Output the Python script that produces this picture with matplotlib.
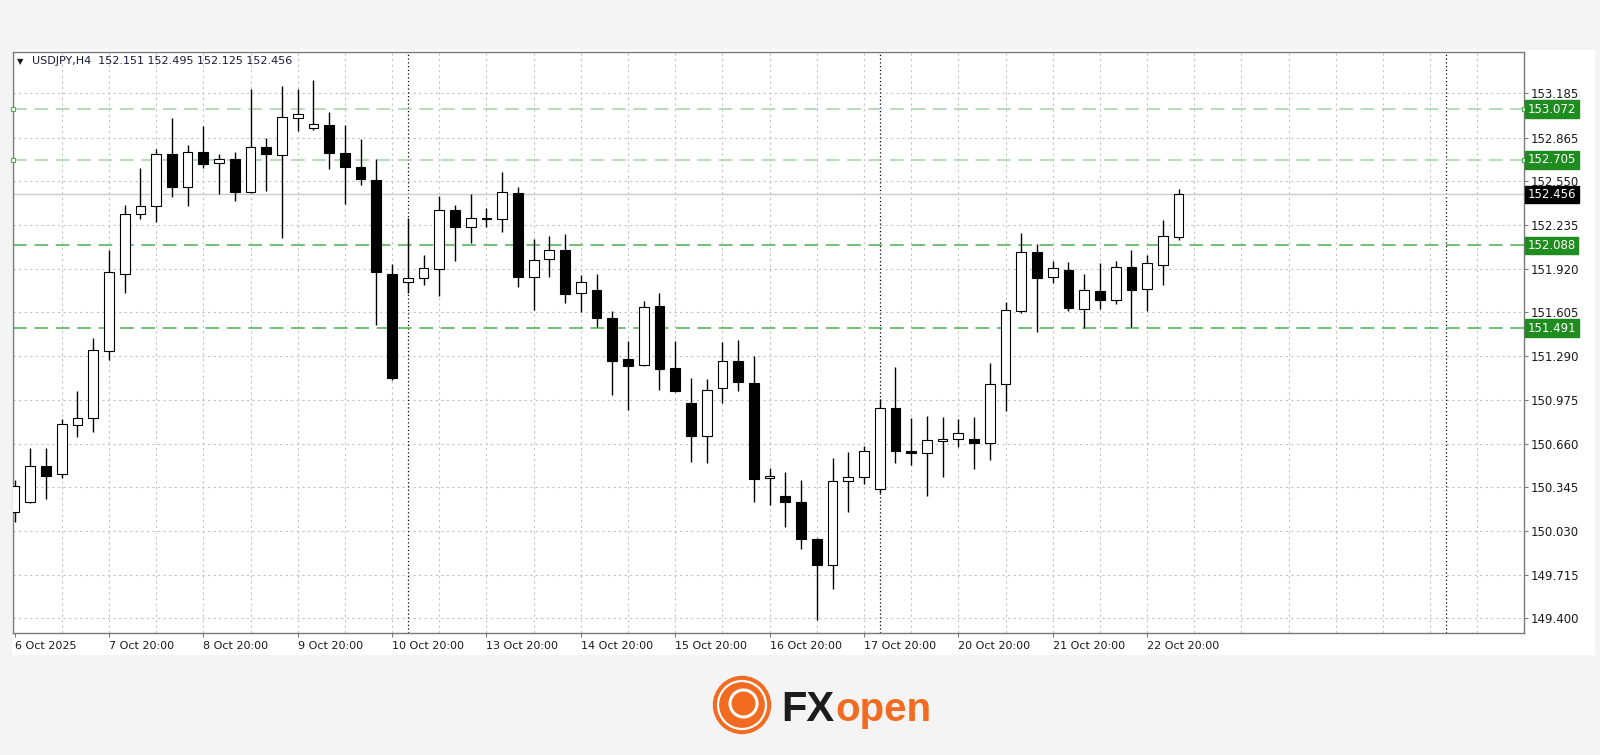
import matplotlib
matplotlib.use("Agg")
import matplotlib.pyplot as plt
from matplotlib.patches import Rectangle, Circle
from matplotlib.transforms import blended_transform_factory

# USDJPY H4 candles, bar 0 = 6 Oct 20:00
opens = [150.168, 150.236, 150.500, 150.437, 150.796, 150.841, 151.329, 151.885, 152.312, 152.370,
         152.750, 152.512, 152.762, 152.680, 152.711, 152.471, 152.800, 152.743, 153.007, 152.937,
         152.957, 152.757, 152.654, 152.558, 151.885, 151.822, 151.851, 151.915, 152.343, 152.218,
         152.280, 152.281, 152.468, 151.863, 151.988, 152.052, 151.747, 151.764, 151.563, 151.272,
         151.226, 151.651, 151.207, 150.950, 150.712, 151.058, 151.255, 151.099, 150.409, 150.281,
         150.240, 149.974, 149.786, 150.392, 150.416, 150.334, 150.918, 150.608, 150.589, 150.676,
         150.692, 150.692, 150.661, 151.087, 151.616, 152.039, 151.858, 151.909, 151.628, 151.762,
         151.697, 151.933, 151.772, 151.947, 152.151]
highs = [150.397, 150.630, 150.625, 150.837, 151.038, 151.418, 152.055, 152.380, 152.649, 152.784,
         153.005, 152.810, 152.949, 152.745, 152.764, 153.216, 152.860, 153.238, 153.216, 153.279,
         153.053, 152.957, 152.856, 152.711, 151.954, 152.284, 152.016, 152.442, 152.379, 152.459,
         152.360, 152.615, 152.507, 152.132, 152.158, 152.170, 151.875, 151.882, 151.615, 151.402,
         151.690, 151.743, 151.399, 151.130, 151.125, 151.394, 151.406, 151.291, 150.481, 150.452,
         150.397, 149.981, 150.553, 150.596, 150.642, 150.978, 151.209, 150.844, 150.861, 150.854,
         150.834, 150.854, 151.241, 151.683, 152.180, 152.096, 151.978, 151.966, 151.885, 151.959,
         151.978, 152.053, 152.017, 152.269, 152.495]
lows = [150.096, 150.230, 150.260, 150.409, 150.709, 150.745, 151.262, 151.743, 152.281, 152.260,
        152.435, 152.375, 152.644, 152.459, 152.406, 152.465, 152.481, 152.139, 152.916, 152.921,
        152.639, 152.387, 152.524, 151.514, 151.118, 151.743, 151.803, 151.726, 151.978, 152.103,
        152.223, 152.182, 151.786, 151.622, 151.863, 151.675, 151.605, 151.497, 151.010, 150.902,
        151.220, 151.046, 151.035, 150.524, 150.517, 150.950, 151.039, 150.236, 150.216, 150.055,
        149.901, 149.387, 149.611, 150.168, 150.368, 150.305, 150.517, 150.505, 150.281, 150.416,
        150.632, 150.474, 150.541, 150.897, 151.599, 151.462, 151.820, 151.615, 151.493, 151.628,
        151.664, 151.503, 151.615, 151.805, 152.125]
closes = [150.353, 150.500, 150.425, 150.798, 150.841, 151.334, 151.897, 152.312, 152.372, 152.750,
          152.512, 152.762, 152.678, 152.711, 152.471, 152.800, 152.748, 153.012, 153.034, 152.961,
          152.757, 152.654, 152.565, 151.897, 151.135, 151.851, 151.923, 152.346, 152.221, 152.288,
          152.283, 152.473, 151.860, 151.985, 152.057, 151.740, 151.822, 151.567, 151.255, 151.219,
          151.647, 151.200, 151.039, 150.712, 151.048, 151.255, 151.103, 150.402, 150.423, 150.238,
          149.974, 149.786, 150.392, 150.416, 150.603, 150.918, 150.606, 150.589, 150.683, 150.690,
          150.733, 150.661, 151.087, 151.620, 152.039, 151.856, 151.928, 151.637, 151.767, 151.697,
          151.933, 151.767, 151.959, 152.159, 152.456]

price_ticks = [153.185, 152.865, 152.550, 152.235, 151.920, 151.605, 151.290,
               150.975, 150.660, 150.345, 150.030, 149.715, 149.400]
green_levels = [153.072, 152.705, 152.088, 151.491]
bid = 152.456

label_bars = [0, 6, 12, 18, 24, 30, 36, 42, 48, 54, 60, 66, 72]
date_labels = ["6 Oct 2025", "7 Oct 20:00", "8 Oct 20:00", "9 Oct 20:00", "10 Oct 20:00",
               "13 Oct 20:00", "14 Oct 20:00", "15 Oct 20:00", "16 Oct 20:00",
               "17 Oct 20:00", "20 Oct 20:00", "21 Oct 20:00", "22 Oct 20:00"]
week_bars = [25, 55, 91]

W, H = 1600, 755
fig = plt.figure(figsize=(16, 7.55), dpi=100, facecolor="#f4f4f4")

# white chart panel behind the axes
fig.patches.append(Rectangle((12 / W, 1 - 655 / H), (1595 - 12) / W, (655 - 50) / H,
                             transform=fig.transFigure, facecolor="white", edgecolor="none", zorder=-10))

ax = fig.add_axes([13.3 / W, 1 - 633 / H, (1524 - 13.3) / W, (633 - 52) / H])
ax.set_facecolor("white")
ax.set_xlim(-0.08, 95.96)
ax.set_ylim(149.294, 153.483)

# grid
for y in price_ticks:
    ax.axhline(y, color="#c2c2c2", lw=0.8, ls=(0, (2, 3)), zorder=1)
for b in range(3, 96, 3):
    ax.axvline(b, color="#c2c2c2", lw=0.8, ls=(0, (2, 3)), zorder=1)
for b in week_bars:
    ax.axvline(b, color="black", lw=0.9, ls=(0, (1, 2)), zorder=1)

# levels
for i, lv in enumerate(green_levels):
    col = "#a3d3a3" if i < 2 else "#4caf50"
    ax.axhline(lv, color=col, lw=1.1, dashes=(9, 5), zorder=1)
    if i < 2:
        ax.plot([-0.08, 95.96], [lv, lv], ls="none", marker="s", ms=3.5, mfc="white",
                mec="#4caf50", mew=0.8, clip_on=False, zorder=5)
ax.axhline(bid, color="#cccccc", lw=1, zorder=1)

# candles
xs = list(range(len(opens)))
ax.vlines(xs, lows, highs, color="black", lw=1, zorder=2)
bottoms = [min(o, c) for o, c in zip(opens, closes)]
heights = [abs(c - o) for o, c in zip(opens, closes)]
faces = ["white" if c >= o else "black" for o, c in zip(opens, closes)]
ax.bar(xs, heights, bottom=bottoms, width=0.62, color=faces, edgecolor="black",
       linewidth=0.8, zorder=3)

# axes look
for s in ax.spines.values():
    s.set_color("#7a7a7a")
    s.set_linewidth(1)
ax.yaxis.tick_right()
ax.set_yticks(price_ticks)
ax.set_yticklabels([f"{v:.3f}" for v in price_ticks])
ax.tick_params(axis="y", length=3, width=0.8, color="#7a7a7a", pad=2, labelsize=8.5,
               labelcolor="#1a1a1a")
ax.set_xticks(label_bars)
ax.set_xticklabels(date_labels, ha="left")
ax.tick_params(axis="x", length=3, width=0.8, color="#7a7a7a", pad=3, labelsize=8,
               labelcolor="#1a1a1a")

# price tags on the right
tr = blended_transform_factory(ax.transAxes, ax.transData)
for lv in green_levels:
    ax.text(1.0025, lv, f"{lv:.3f}", transform=tr, ha="left", va="center", fontsize=8.5,
            color="white", zorder=6, clip_on=False,
            bbox=dict(boxstyle="square,pad=0.2", fc="#1e8c1e", ec="#1e8c1e"))
ax.text(1.0025, bid, f"{bid:.3f}", transform=tr, ha="left", va="center", fontsize=8.5,
        color="white", zorder=6, clip_on=False,
        bbox=dict(boxstyle="square,pad=0.2", fc="black", ec="black"))

# header
fig.text(17 / W, 1 - 62 / H, "\u25bc", fontsize=6, color="#1a1a1a", va="center")
fig.text(32 / W, 1 - 61 / H, f"USDJPY,H4  {opens[-1]:.3f} {highs[-1]:.3f} {lows[-1]:.3f} {closes[-1]:.3f}",
         fontsize=8, color="#1a1a3a", va="center")

# logo
lax = fig.add_axes([(742 - 30) / W, (755 - 705 - 30) / H, 60 / W, 60 / H])
lax.set_xlim(-1, 1)
lax.set_ylim(-1, 1)
lax.axis("off")
lax.add_patch(Circle((0, 0), 0.95, color="#f26b21"))
lax.add_patch(Circle((0, 0), 0.8, fill=False, ec="white", lw=1.6))
lax.add_patch(Circle((0.05, 0.05), 0.45, fill=False, ec="white", lw=2.2))
fig.text(781 / W, 1 - 721 / H, "FX", fontsize=30, fontweight="bold", family="Liberation Sans",
         color="#1c1c1c", va="baseline")
fig.text(835 / W, 1 - 721 / H, "open", fontsize=29, fontweight="bold", family="Liberation Sans",
         color="#f26b21", va="baseline")

fig.savefig("out.png", dpi=100, facecolor=fig.get_facecolor())
